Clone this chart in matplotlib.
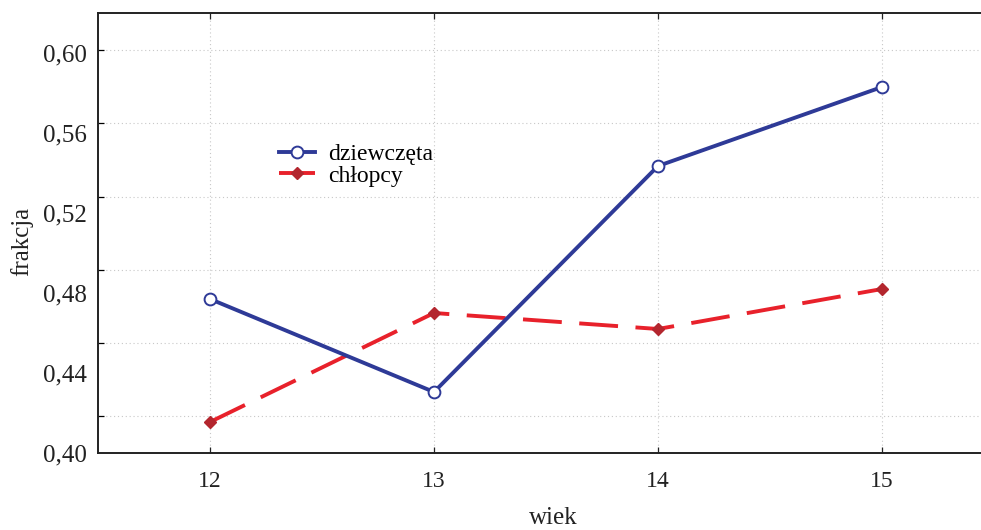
import matplotlib
matplotlib.use("Agg")
import matplotlib.pyplot as plt
from matplotlib.ticker import FixedLocator

# data
ages = [12, 13, 14, 15]
girls = [0.477, 0.4305, 0.5435, 0.583]
boys = [0.4155, 0.470, 0.462, 0.482]
ytick_vals = [0.40, 0.44, 0.48, 0.52, 0.56, 0.60]
ytick_labels = ["0,40", "0,44", "0,48", "0,52", "0,56", "0,60"]
xtick_labels = ["12", "13", "14", "15"]

plt.rcParams['font.family'] = ['Liberation Serif', 'DejaVu Serif']

W, H = 981, 530
fig = plt.figure(figsize=(W / 100, H / 100), dpi=100)
ax = fig.add_axes([98 / W, (H - 453) / H, 896 / W, 440 / H])

blue = "#2e3a97"
red = "#e8212b"
dred = "#b3262e"

ax.plot(ages, boys, color=red, lw=2.8, dashes=(10, 4.5), marker="D",
        markersize=6.5, markerfacecolor=dred, markeredgecolor=dred,
        label="chłopcy", zorder=3)
ax.plot(ages, girls, color=blue, lw=2.8, marker="o", markersize=8.5,
        markerfacecolor="white", markeredgecolor=blue, markeredgewidth=1.4,
        label="dziewczęta", zorder=4)

ax.set_xlim(11.5, 15.5)
ax.set_ylim(0.40, 0.62)

ax.set_xticks(ages)
ax.set_xticklabels(xtick_labels)
ax.set_yticks(ytick_vals)
ax.set_yticklabels(ytick_labels)

# dotted grid lines at the reference's minor positions
grid_y = [0.4185, 0.455, 0.4915, 0.528, 0.565, 0.6015]
ax.yaxis.set_minor_locator(FixedLocator(grid_y))
ax.grid(False)
for gy in grid_y:
    ax.axhline(gy, color="#c8c8c8", lw=0.8, ls=(0, (1, 2.5)), zorder=1)
for gx in ages:
    ax.axvline(gx, color="#c8c8c8", lw=0.8, ls=(0, (1, 2.5)), zorder=1)

ax.tick_params(axis="y", which="major", length=0, labelsize=18, pad=8,
               colors="#222222")
ax.tick_params(axis="y", which="minor", direction="in", length=4,
               width=0.9, left=True, right=False)
ax.tick_params(axis="x", which="major", direction="in", length=4, width=0.9,
               top=True, bottom=True, labelsize=17, pad=13, colors="#222222")

for s in ["left", "top", "bottom"]:
    ax.spines[s].set_linewidth(1.4)
    ax.spines[s].set_color("#222222")
ax.spines["right"].set_visible(False)

ax.set_ylabel("frakcja", fontsize=18, color="#222222")
ax.yaxis.set_label_coords(-76 / 896, 0.48)
ax.yaxis.label.set_ha("center")
ax.yaxis.label.set_va("center")
ax.set_xlabel("wiek", fontsize=18, color="#222222")
ax.xaxis.set_label_coords((553 - 98) / 896, -(518 - 453) / 440)
ax.xaxis.label.set_va("center")

handles, labels = ax.get_legend_handles_labels()
leg = ax.legend(handles[::-1], labels[::-1], loc="upper left",
                bbox_to_anchor=((262 - 98) / 896, (453 - 127) / 440),
                frameon=False, fontsize=17, handlelength=1.55,
                handletextpad=0.55, labelspacing=0.0, borderpad=0.2)

fig.savefig("out.png", dpi=100)
